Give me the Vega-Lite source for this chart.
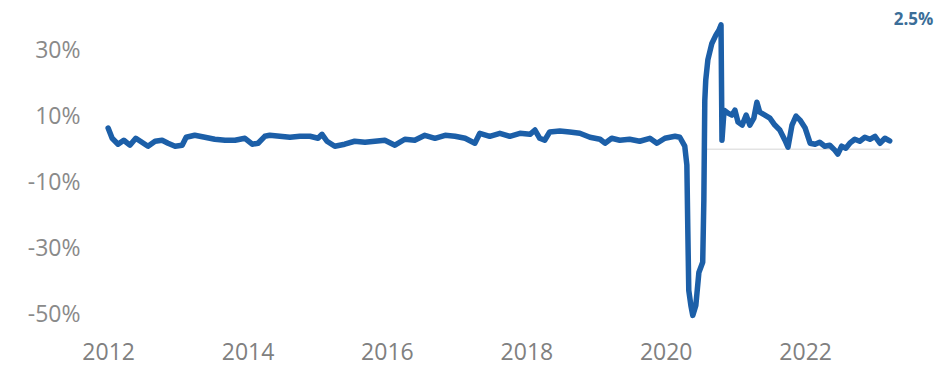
{
  "$schema": "https://vega.github.io/schema/vega-lite/v6.json",
  "width": 810,
  "height": 304,
  "autosize": {"type": "none"},
  "padding": {"left": 90, "top": 17, "right": 51, "bottom": 51},
  "background": "white",
  "config": {"view": {"stroke": null}},
  "datasets": {
    "series": [
      {"date": "2012-01-01", "value": 6.4},
      {"date": "2012-01-22", "value": 3.3},
      {"date": "2012-02-22", "value": 1.5},
      {"date": "2012-03-23", "value": 2.7},
      {"date": "2012-04-24", "value": 1.2},
      {"date": "2012-05-25", "value": 3.3},
      {"date": "2012-06-26", "value": 2.1},
      {"date": "2012-07-28", "value": 0.9},
      {"date": "2012-09-03", "value": 2.4},
      {"date": "2012-10-10", "value": 2.7},
      {"date": "2012-11-10", "value": 1.8},
      {"date": "2012-12-17", "value": 0.9},
      {"date": "2013-01-23", "value": 1.2},
      {"date": "2013-02-13", "value": 3.6},
      {"date": "2013-03-30", "value": 4.2},
      {"date": "2013-05-22", "value": 3.6},
      {"date": "2013-07-13", "value": 3.0},
      {"date": "2013-09-05", "value": 2.7},
      {"date": "2013-10-27", "value": 2.7},
      {"date": "2013-12-18", "value": 3.3},
      {"date": "2014-01-25", "value": 1.5},
      {"date": "2014-02-25", "value": 1.8},
      {"date": "2014-04-01", "value": 3.9},
      {"date": "2014-04-27", "value": 4.2},
      {"date": "2014-06-19", "value": 3.9},
      {"date": "2014-08-11", "value": 3.6},
      {"date": "2014-10-02", "value": 3.9},
      {"date": "2014-11-24", "value": 3.9},
      {"date": "2015-01-05", "value": 3.3},
      {"date": "2015-01-26", "value": 4.5},
      {"date": "2015-02-21", "value": 2.4},
      {"date": "2015-04-03", "value": 0.9},
      {"date": "2015-05-25", "value": 1.5},
      {"date": "2015-07-16", "value": 2.4},
      {"date": "2015-09-08", "value": 2.1},
      {"date": "2015-10-30", "value": 2.4},
      {"date": "2015-12-21", "value": 2.7},
      {"date": "2016-02-12", "value": 1.2},
      {"date": "2016-04-04", "value": 3.0},
      {"date": "2016-05-26", "value": 2.7},
      {"date": "2016-07-18", "value": 4.2},
      {"date": "2016-09-09", "value": 3.3},
      {"date": "2016-11-01", "value": 4.2},
      {"date": "2016-12-23", "value": 3.9},
      {"date": "2017-02-14", "value": 3.3},
      {"date": "2017-04-06", "value": 1.8},
      {"date": "2017-05-02", "value": 4.8},
      {"date": "2017-06-23", "value": 3.9},
      {"date": "2017-08-15", "value": 4.8},
      {"date": "2017-10-06", "value": 3.9},
      {"date": "2017-11-28", "value": 4.8},
      {"date": "2018-01-20", "value": 4.5},
      {"date": "2018-02-15", "value": 5.8},
      {"date": "2018-03-12", "value": 3.3},
      {"date": "2018-04-07", "value": 2.7},
      {"date": "2018-05-03", "value": 5.2},
      {"date": "2018-06-25", "value": 5.5},
      {"date": "2018-08-16", "value": 5.2},
      {"date": "2018-10-08", "value": 4.8},
      {"date": "2018-11-30", "value": 3.6},
      {"date": "2019-01-22", "value": 3.0},
      {"date": "2019-02-17", "value": 1.8},
      {"date": "2019-03-24", "value": 3.3},
      {"date": "2019-05-05", "value": 2.7},
      {"date": "2019-06-26", "value": 3.0},
      {"date": "2019-08-18", "value": 2.4},
      {"date": "2019-10-10", "value": 3.3},
      {"date": "2019-11-16", "value": 1.8},
      {"date": "2019-12-28", "value": 3.3},
      {"date": "2020-02-19", "value": 3.9},
      {"date": "2020-03-15", "value": 3.6},
      {"date": "2020-04-10", "value": 0.9},
      {"date": "2020-04-21", "value": -4.8},
      {"date": "2020-04-26", "value": -24.5},
      {"date": "2020-05-01", "value": -42.7},
      {"date": "2020-05-12", "value": -47.3},
      {"date": "2020-05-22", "value": -50.3},
      {"date": "2020-06-07", "value": -47.3},
      {"date": "2020-06-23", "value": -37.3},
      {"date": "2020-07-13", "value": -34.2},
      {"date": "2020-07-19", "value": -15.5},
      {"date": "2020-07-24", "value": 14.8},
      {"date": "2020-07-29", "value": 20.9},
      {"date": "2020-08-09", "value": 27.0},
      {"date": "2020-08-30", "value": 32.0},
      {"date": "2020-09-20", "value": 34.5},
      {"date": "2020-10-06", "value": 36.0},
      {"date": "2020-10-17", "value": 37.6},
      {"date": "2020-10-22", "value": 2.7},
      {"date": "2020-11-02", "value": 11.8},
      {"date": "2020-11-23", "value": 10.9},
      {"date": "2020-12-13", "value": 10.3},
      {"date": "2020-12-29", "value": 11.8},
      {"date": "2021-01-14", "value": 8.2},
      {"date": "2021-02-05", "value": 7.3},
      {"date": "2021-02-26", "value": 10.3},
      {"date": "2021-03-17", "value": 7.3},
      {"date": "2021-04-07", "value": 9.4},
      {"date": "2021-04-23", "value": 14.2},
      {"date": "2021-05-08", "value": 11.2},
      {"date": "2021-06-04", "value": 10.3},
      {"date": "2021-06-30", "value": 9.4},
      {"date": "2021-07-26", "value": 7.3},
      {"date": "2021-08-21", "value": 5.8},
      {"date": "2021-09-17", "value": 2.7},
      {"date": "2021-10-03", "value": 0.6},
      {"date": "2021-10-24", "value": 7.3},
      {"date": "2021-11-14", "value": 10.0},
      {"date": "2021-12-05", "value": 8.8},
      {"date": "2022-01-01", "value": 6.4},
      {"date": "2022-01-27", "value": 1.8},
      {"date": "2022-02-22", "value": 1.5},
      {"date": "2022-03-18", "value": 2.1},
      {"date": "2022-04-14", "value": 0.9},
      {"date": "2022-05-10", "value": 1.2},
      {"date": "2022-06-05", "value": -0.3},
      {"date": "2022-06-21", "value": -1.5},
      {"date": "2022-07-11", "value": 0.9},
      {"date": "2022-08-02", "value": 0.3},
      {"date": "2022-08-23", "value": 1.8},
      {"date": "2022-09-18", "value": 3.0},
      {"date": "2022-10-14", "value": 2.4},
      {"date": "2022-11-10", "value": 3.6},
      {"date": "2022-12-06", "value": 3.0},
      {"date": "2023-01-02", "value": 3.9},
      {"date": "2023-01-28", "value": 1.8},
      {"date": "2023-02-23", "value": 3.3},
      {"date": "2023-03-20", "value": 2.5}
    ],
    "baseline": [
      {"start": "2020-08-01", "end": "2023-03-20", "value": 0}
    ]
  },
  "layer": [
    {
      "data": {"name": "baseline"},
      "mark": {"type": "rule", "color": "#e3e3e3", "strokeWidth": 1.5},
      "encoding": {
        "x": {"field": "start", "type": "temporal"},
        "x2": {"field": "end"},
        "y": {"field": "value", "type": "quantitative"}
      }
    },
    {
      "data": {"name": "series"},
      "mark": {"type": "line", "color": "#1c5fa8", "strokeWidth": 5.5, "strokeJoin": "round", "strokeCap": "round"},
      "encoding": {
        "x": {
          "field": "date",
          "type": "temporal",
          "scale": {"domain": ["2011-09-28", "2023-05-13"]},
          "axis": {
            "title": null,
            "values": ["2012-01-01", "2014-01-01", "2016-01-01", "2018-01-01", "2020-01-01", "2022-01-01"],
            "format": "%Y",
            "domain": false,
            "ticks": false,
            "grid": false,
            "labelFont": "Open Sans",
            "labelFontSize": 23,
            "labelColor": "#808080",
            "labelPadding": 20
          }
        },
        "y": {
          "field": "value",
          "type": "quantitative",
          "scale": {"domain": [-52, 40], "nice": false},
          "axis": {
            "title": null,
            "values": [-50, -30, -10, 10, 30],
            "labelExpr": "datum.value + '%'",
            "domain": false,
            "ticks": false,
            "grid": false,
            "labelFont": "Open Sans",
            "labelFontSize": 23,
            "labelColor": "#8a8a8a",
            "labelPadding": 10
          }
        }
      }
    },
    {
      "data": {"name": "series"},
      "transform": [
        {"joinaggregate": [{"op": "max", "field": "date", "as": "lastDate"}]},
        {"filter": "time(datum.date) == time(datum.lastDate)"},
        {"calculate": "format(datum.value, '.1f') + '%'", "as": "label"}
      ],
      "mark": {"type": "text", "align": "left", "baseline": "middle", "dx": 4, "font": "Open Sans", "fontSize": 17, "fontWeight": "bold", "color": "#3b6e98"},
      "encoding": {
        "x": {"field": "date", "type": "temporal"},
        "y": {"datum": 39},
        "text": {"field": "label", "type": "nominal"}
      }
    }
  ]
}
